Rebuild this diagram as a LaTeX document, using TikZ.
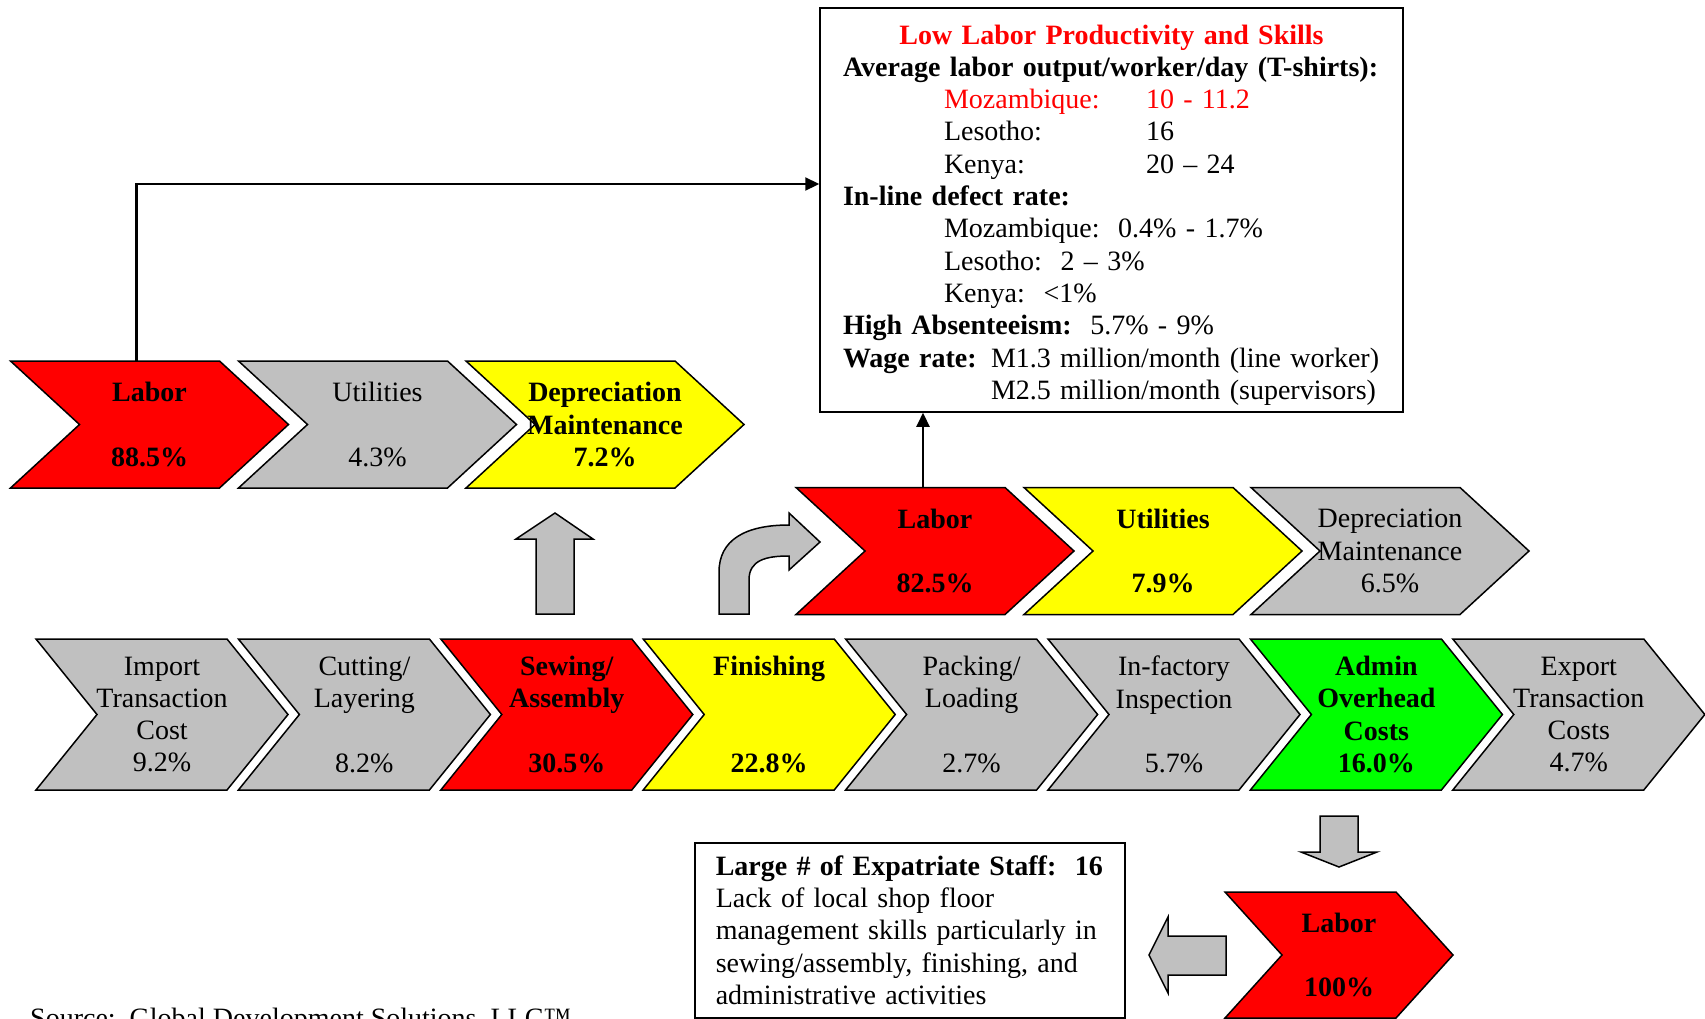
\documentclass[tikz,border=0pt]{standalone}
\usepackage{fontspec}
\setmainfont{Liberation Serif}
\usetikzlibrary{arrows.meta}
\definecolor{chevred}{RGB}{255,0,0}
\definecolor{chevyellow}{RGB}{255,255,0}
\definecolor{chevgreen}{RGB}{0,255,0}
\definecolor{chevgray}{RGB}{192,192,192}
\newcommand{\mainfont}{\fontsize{28}{32.3}\selectfont}
\tikzstyle{chevline}=[draw=black,line width=1.5pt,line join=miter]
\tikzstyle{chevtext}=[align=center,inner sep=0pt,minimum width=\chw pt,minimum height=\chh pt]
\tikzstyle{blockarrow}=[draw=black,line width=1.5pt,fill=chevgray]
\tikzstyle{thinarrow}=[draw=black,line width=2.2pt,-{Triangle[length=14pt,width=13pt]}]
\tikzstyle{textbox}=[draw=black,line width=1.5pt,inner sep=0pt]
\newcommand{\chevdims}[3]{% width, height, depth of the tip
  \pgfmathsetmacro{\chw}{#1}
  \pgfmathsetmacro{\chh}{#2}
  \pgfmathsetmacro{\chd}{#3}
}
\newcommand{\chevron}[6][\mdseries]{% [font switch] name, centre x, centre y, fill, text
  \filldraw[chevline,fill=#5] ({#3-\chw/2},{#4-\chh/2}) -- ++({\chw-\chd},0) -- ({#3+\chw/2},{#4}) -- ++({-\chd},{\chh/2}) -- ++({\chd-\chw},0) -- ({#3-\chw/2+\chd},{#4}) -- cycle;
  \node[chevtext,font={\mainfont#1}] (#2) at ({#3},{#4}) {#6};
}

\begin{document}
\begin{tikzpicture}[x=1pt,y=-1pt,font=\mainfont]
	\useasboundingbox (0,0) rectangle (1705,1018);
	\clip (0,0) rectangle (1705,1018);
	% upper left chain (sewing)
	\chevdims{278}{127}{69}
	\chevron[\bfseries]{labA}{149.5}{424.5}{chevred}{Labor\\\mbox{}\\88.5\%}
	\chevron{utilA}{377.5}{424.5}{chevgray}{Utilities\\\mbox{}\\4.3\%}
	\chevron[\bfseries]{depA}{605}{424.5}{chevyellow}{Depreciation\\Maintenance\\7.2\%}
	% middle chain (finishing)
	\chevron[\bfseries]{labB}{935}{551}{chevred}{Labor\\\mbox{}\\82.5\%}
	\chevron[\bfseries]{utilB}{1163}{551}{chevyellow}{Utilities\\\mbox{}\\7.9\%}
	\chevron{depB}{1390}{551}{chevgray}{Depreciation\\Maintenance\\6.5\%}
	% main value chain
	\chevdims{252}{151}{61}
	\foreach \i/\col/\fnt/\txt in {1/chevgray/\mdseries/{Import\\Transaction\\Cost\\9.2\%},
		2/chevgray/\mdseries/{Cutting/\\Layering\\\mbox{}\\8.2\%},
		3/chevred/\bfseries/{Sewing/\\Assembly\\\mbox{}\\30.5\%},
		4/chevyellow/\bfseries/{Finishing\\\mbox{}\\\mbox{}\\22.8\%},
		5/chevgray/\mdseries/{Packing/\\Loading\\\mbox{}\\2.7\%},
		6/chevgray/\mdseries/{In-factory\\Inspection\\\mbox{}\\5.7\%},
		7/chevgreen/\bfseries/{Admin\\Overhead\\Costs\\16.0\%},
		8/chevgray/\mdseries/{Export\\Transaction\\Costs\\4.7\%}} {
		\chevron[\fnt]{st\i}{162+202.4*(\i-1)}{714.5}{\col}{\txt}
	}
	% admin labor
	\chevdims{228}{126}{57}
	\chevron[\bfseries]{labC}{1339}{955}{chevred}{Labor\\\mbox{}\\100\%}
	% block arrows
	\filldraw[blockarrow] (536,614) -- (536,539) -- (516,539) -- (555,513) -- (593,539) -- (574,539) -- (574,614) -- cycle;
	\filldraw[blockarrow] (719,614) -- (719,572) .. controls (719,540) and (745,525) .. (789,525) -- (789,513) -- (820,542) -- (789,570) -- (789,556) .. controls (766,556) and (749,560) .. (749,580) -- (749,614) -- cycle;
	\filldraw[blockarrow] (1320,816) -- (1358,816) -- (1358,852) -- (1377,852) -- (1339,867) -- (1301,852) -- (1320,852) -- cycle;
	\filldraw[blockarrow] (1226,936) -- (1226,975) -- (1168,975) -- (1168,993) -- (1149,955) -- (1168,917) -- (1168,936) -- cycle;
	% text boxes
	\node[textbox,minimum width=583pt,minimum height=404pt] (lowbox) at (1111.5,210) {};
	\node[text width=537pt,align=left,inner sep=0pt,yshift=-5pt] (lowtext) at (lowbox.center) {%
		\makebox[537pt]{\color{chevred}\bfseries Low Labor Productivity and Skills}\\
		\textbf{Average labor output/worker/day (T-shirts):}\\
		\hspace*{101pt}\makebox[202pt][l]{\color{chevred}Mozambique:}{\color{chevred}10 - 11.2}\\
		\hspace*{101pt}\makebox[202pt][l]{Lesotho:}16\\
		\hspace*{101pt}\makebox[202pt][l]{Kenya:}20 -- 24\\
		\textbf{In-line defect rate:}\\
		\hspace*{101pt}Mozambique:\ \ 0.4\% - 1.7\%\\
		\hspace*{101pt}Lesotho:\ \ 2 -- 3\%\\
		\hspace*{101pt}Kenya:\ \ <1\%\\
		\textbf{High Absenteeism:}\ \ 5.7\% - 9\%\\
		\makebox[148pt][l]{\textbf{Wage rate:}}M1.3 million/month (line worker)\\
		\hspace*{148pt}M2.5 million/month (supervisors)};
	\node[textbox,anchor=north west,minimum width=430pt,minimum height=175pt,text width=388pt,align=left,inner xsep=21pt] (staffbox) at (694,842) {\textbf{Large \# of Expatriate Staff:\ \ 16}\\Lack of local shop floor\\management skills particularly in\\sewing/assembly, finishing, and\\administrative activities};
	\node[anchor=base west,inner sep=0pt] (srcnote) at (30,1027) {Source:\ \ Global Development Solutions, LLC™};
	% labor links
	\draw[thinarrow] ([xshift=-13pt]labA.north) |- ([yshift=26pt]lowbox.west);
	\draw[thinarrow] ([xshift=-12pt]labB.north) -- ([xshift=-12pt]labB.north |- lowbox.south);
\end{tikzpicture}
\end{document}
